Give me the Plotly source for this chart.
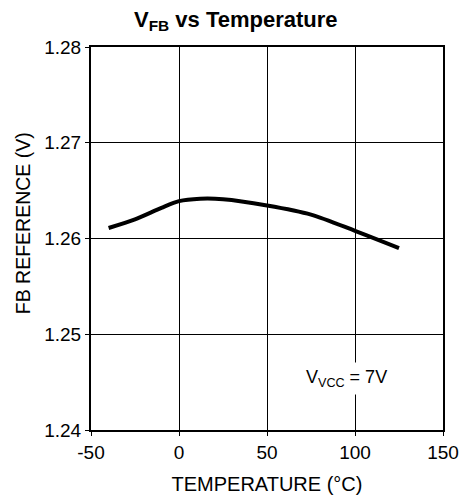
import plotly.graph_objects as go

temps = [-40, -25, -10, 0, 12, 25, 50, 75, 100, 125]
vfb = [1.2611, 1.2620, 1.2632, 1.2639, 1.26415, 1.2641, 1.26345, 1.2625, 1.2608, 1.2590]

x_ticks = [-50, 0, 50, 100, 150]
y_ticks = [1.24, 1.25, 1.26, 1.27, 1.28]

FONT = "Liberation Sans, Arial, sans-serif"

fig = go.Figure()
fig.add_trace(go.Scatter(x=temps, y=vfb, mode="lines",
                         line=dict(color="black", width=4, shape="spline", smoothing=0.8),
                         showlegend=False, hoverinfo="skip"))

fig.add_annotation(x=95, y=1.2454, xref="x", yref="y",
                   text="V<sub>VCC</sub> = 7V", showarrow=False,
                   font=dict(family=FONT, size=18, color="black"),
                   bgcolor="white", borderpad=4)

# y-axis title placed as annotation (slightly above axis centre, as in reference)
fig.add_annotation(x=-0.193, y=0.54, xref="paper", yref="paper",
                   text="FB REFERENCE (V)", textangle=-90, showarrow=False,
                   xanchor="center", yanchor="middle",
                   font=dict(family=FONT, size=19.5, color="black"))

axis_common = dict(showline=True, linecolor="black", linewidth=2, mirror=True,
                   showgrid=True, gridcolor="black", gridwidth=1,
                   ticks="outside", ticklen=4, tickcolor="black", tickwidth=1,
                   zeroline=False, automargin=False,
                   tickfont=dict(family=FONT, size=19, color="black"))

fig.update_xaxes(range=[-50, 150], tickvals=x_ticks, ticktext=[str(v) for v in x_ticks],
                 title=dict(text="TEMPERATURE (°C)", font=dict(family=FONT, size=20, color="black"), standoff=15),
                 **axis_common)
fig.update_yaxes(range=[1.24, 1.28], tickvals=y_ticks, ticktext=[f"{v:.2f}" for v in y_ticks],
                 **axis_common)

fig.update_layout(
    width=464, height=493,
    margin=dict(l=83, r=29, t=39, b=71),
    paper_bgcolor="white", plot_bgcolor="white",
    title=dict(text="<b>V<sub>FB</sub> vs Temperature</b>", x=0.491, xanchor="center",
               y=0.978, yanchor="middle", yref="container",
               font=dict(family=FONT, size=22, color="black")),
)

fig.write_html("out.html")
